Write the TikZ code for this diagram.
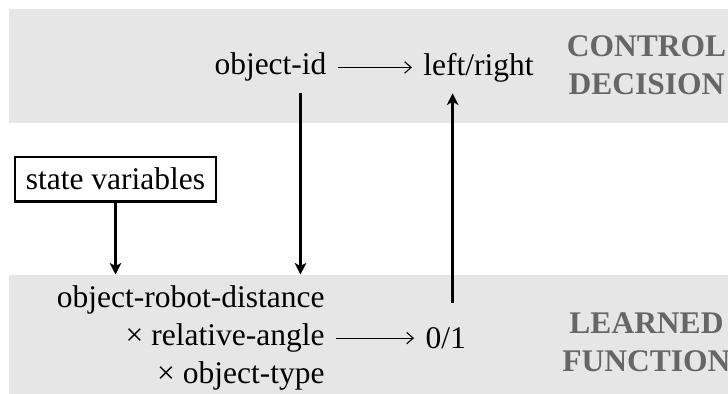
\documentclass[tikz,border=0pt]{standalone}
\usepackage{fontspec}
\setmainfont{Liberation Serif}
\definecolor{bandgray}{RGB}{230,230,230}
\definecolor{labelgray}{RGB}{102,102,102}
\usetikzlibrary{arrows.meta, positioning}

\begin{document}
\begin{tikzpicture}[
  x=0.4pt, y=0.4pt,
  txt/.style={inner sep=4.4pt, font=\fontsize{12.6}{15.12}\selectfont},
  lbl/.style={font=\fontsize{12.6}{15.12}\selectfont\bfseries, text=labelgray, align=center, inner sep=0pt},
  arr/.style={-{Stealth[length=4.6pt, width=4.6pt, inset=1.2pt]}, line width=1pt},
  thinarr/.style={-{Straight Barb[length=2.6pt, width=4.6pt]}, line width=0.45pt}
]
  \useasboundingbox (0,0) rectangle (728,394);
  \clip (0,0) rectangle (728,394);
  \fill[bandgray] (9,271) rectangle (728,385);
  \fill[bandgray] (9,0) rectangle (728,119);

  \node[txt, anchor=base west] (objid) at (203,319) {object-id};
  \node[txt, right=29.6pt of objid] (lr) {left/right};
  \node[lbl] (ctrl) at (646.5,328.5) {CONTROL\\DECISION};

  \node[txt, draw, line width=1pt, anchor=base] (sv) at (115.5,204) {state variables};

  \node[txt, align=right, anchor=north east] (feat) at (336,119.5) {object-robot-distance\\× relative-angle\\× object-type};
  \node[txt, right=31.2pt of feat] (zo) {0/1};
  \node[lbl] (learn) at (646.5,52) {LEARNED\\FUNCTION};

  \draw[thinarr] (objid) -- (lr);
  \draw[thinarr] (feat) -- (zo);
  \draw[arr] ([xshift=12pt]objid.south) -- ([xshift=12pt]objid.south |- feat.north);
  \draw[arr] (sv) -- (sv |- feat.north);
  \draw[arr] ([xshift=2.8pt, yshift=5pt]zo.north) -- ([xshift=2.8pt]zo.north |- lr.south);
\end{tikzpicture}
\end{document}
